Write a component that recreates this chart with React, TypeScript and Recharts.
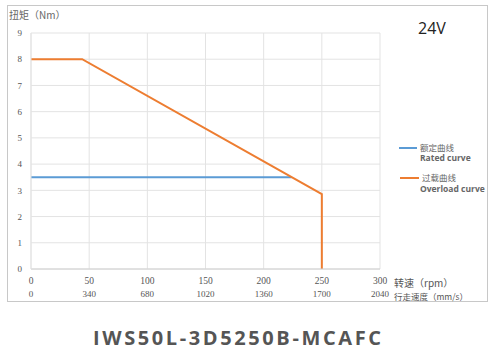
import React from "react";
import { LineChart, Line, XAxis, YAxis, CartesianGrid } from "recharts";

const rpmTicks = [0, 50, 100, 150, 200, 250, 300];
const speedLabels = ["0", "340", "680", "1020", "1360", "1700", "2040"];
const torqueTicks = [0, 1, 2, 3, 4, 5, 6, 7, 8, 9];

const ratedRpm = [0, 224];
const ratedTorque = [3.5, 3.5];

const overloadRpm = [0, 44, 250, 250];
const overloadTorque = [8, 8, 2.86, 0];

const ratedData = ratedRpm.map((x, i) => ({ rpm: x, torque: ratedTorque[i] }));
const overloadData = overloadRpm.map((x, i) => ({ rpm: x, torque: overloadTorque[i] }));

const BLUE = "#5b9bd5";
const ORANGE = "#ed7d31";
const TICK_FONT = "'Liberation Serif', serif";
const CJK = "'Noto Sans CJK SC', 'Noto Sans', sans-serif";

const XTick = (props: any) => {
  const { x, y, payload, index } = props;
  return (
    <g>
      <text x={x} y={y + 13} textAnchor="middle" fontSize={9.5} fill="#555" fontFamily={TICK_FONT}>
        {payload.value}
      </text>
      <text x={x} y={y + 26} textAnchor="middle" fontSize={9} fill="#555" fontFamily={TICK_FONT}>
        {speedLabels[index]}
      </text>
    </g>
  );
};

export default function App() {
  return (
    <div style={{ position: "absolute", left: 0, top: 0, width: 499, height: 354, background: "#fff" }}>
      <div
        style={{
          position: "absolute",
          left: 7,
          top: 5,
          width: 481,
          height: 297,
          border: "1px solid #c8c8c8",
          boxSizing: "border-box",
        }}
      />
      <LineChart
        width={499}
        height={354}
        margin={{ top: 33, right: 119, left: 0, bottom: 57 }}
        style={{ position: "absolute", left: 0, top: 0 }}
      >
        <CartesianGrid stroke="#e3e3e3" strokeWidth={1} />
        <XAxis
          dataKey="rpm"
          type="number"
          domain={[0, 300]}
          ticks={rpmTicks}
          allowDuplicatedCategory={false}
          axisLine={{ stroke: "#d0d0d0" }}
          tickLine={false}
          tickSize={0}
          height={28}
          tick={<XTick />}
          interval={0}
        />
        <YAxis
          type="number"
          domain={[0, 9]}
          ticks={torqueTicks}
          width={31}
          axisLine={{ stroke: "#e3e3e3" }}
          tickLine={false}
          tickSize={0}
          tickMargin={9}
          interval={0}
          tick={{ fontSize: 9, fill: "#555", fontFamily: TICK_FONT }}
        />
        <Line
          data={ratedData}
          dataKey="torque"
          stroke={BLUE}
          strokeWidth={2}
          dot={false}
          type="linear"
          isAnimationActive={false}
        />
        <Line
          data={overloadData}
          dataKey="torque"
          stroke={ORANGE}
          strokeWidth={2}
          dot={false}
          type="linear"
          isAnimationActive={false}
        />
      </LineChart>

      <div style={{ position: "absolute", left: 9, top: 7, fontSize: 10, color: "#666", fontFamily: CJK, whiteSpace: "nowrap" }}>
        扭矩（Nm）
      </div>
      <div style={{ position: "absolute", left: 418, top: 17, fontSize: 16, color: "#222", fontFamily: "'Open Sans', sans-serif", whiteSpace: "nowrap" }}>
        24V
      </div>

      <div style={{ position: "absolute", left: 399, top: 147, width: 18, height: 2, background: BLUE }} />
      <div style={{ position: "absolute", left: 420, top: 141, fontSize: 8.5, color: "#666", fontFamily: CJK, whiteSpace: "nowrap" }}>
        额定曲线
      </div>
      <div style={{ position: "absolute", left: 420, top: 152, fontSize: 8.5, fontWeight: 700, color: "#666", fontFamily: "'Open Sans', sans-serif", whiteSpace: "nowrap" }}>
        Rated curve
      </div>
      <div style={{ position: "absolute", left: 400, top: 177, width: 19, height: 2, background: ORANGE }} />
      <div style={{ position: "absolute", left: 422, top: 171, fontSize: 8.5, color: "#666", fontFamily: CJK, whiteSpace: "nowrap" }}>
        过载曲线
      </div>
      <div style={{ position: "absolute", left: 420, top: 183, fontSize: 8.5, fontWeight: 700, color: "#666", fontFamily: "'Open Sans', sans-serif", whiteSpace: "nowrap" }}>
        Overload curve
      </div>

      <div style={{ position: "absolute", left: 394, top: 275, fontSize: 10, color: "#555", fontFamily: CJK, whiteSpace: "nowrap" }}>
        转速（rpm）
      </div>
      <div style={{ position: "absolute", left: 394, top: 290, fontSize: 8.5, color: "#555", fontFamily: CJK, whiteSpace: "nowrap" }}>
        行走速度（mm/s）
      </div>

      <div
        style={{
          position: "absolute",
          left: 93,
          top: 324,
          fontSize: 20,
          fontWeight: 700,
          color: "#555",
          letterSpacing: 2.6,
          fontFamily: "'Open Sans', sans-serif",
          whiteSpace: "nowrap",
        }}
      >
        IWS50L-3D5250B-MCAFC
      </div>
    </div>
  );
}
